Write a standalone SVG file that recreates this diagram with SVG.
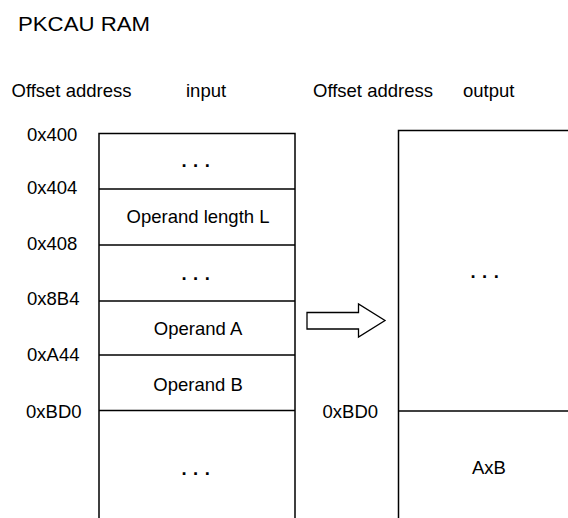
<svg xmlns="http://www.w3.org/2000/svg" width="568" height="518" viewBox="0 0 568 518">
<style>
text{font-family:"Liberation Sans",Arial,sans-serif;font-size:18.5px;fill:#000}
.c{text-anchor:middle}
.ln{stroke:#000;stroke-width:1.5;fill:none}
.dots{font-weight:bold;letter-spacing:0.7px}
</style>
<rect width="568" height="518" fill="#fff"/>
<text x="18" y="30.5" textLength="132" lengthAdjust="spacingAndGlyphs" style="font-size:20.5px">PKCAU RAM</text>
<g id="headers">
<text x="11.5" y="96.5">Offset address</text>
<text x="186" y="96.5">input</text>
<text x="313" y="96.5">Offset address</text>
<text x="463" y="96.5">output</text>
</g>
<g id="input-memory">
<path class="ln" d="M99,518 V133.5 H295 V518"/>
<line class="ln" x1="99" y1="189" x2="295" y2="189"/>
<line class="ln" x1="99" y1="245" x2="295" y2="245"/>
<line class="ln" x1="99" y1="301" x2="295" y2="301"/>
<line class="ln" x1="99" y1="355" x2="295" y2="355"/>
<line class="ln" x1="99" y1="410.5" x2="295" y2="410.5" stroke-width="2"/>
</g>
<g id="input-labels">
<text x="27" y="141">0x400</text>
<text x="27" y="193.5">0x404</text>
<text x="27" y="250">0x408</text>
<text x="27" y="305">0x8B4</text>
<text x="27" y="360.5">0xA44</text>
<text x="26" y="418">0xBD0</text>
</g>
<g id="cell-reserved1"><text class="c dots" x="196" y="167">. . .</text></g>
<g id="cell-length"><text class="c" x="198" y="223">Operand length L</text></g>
<g id="cell-reserved2"><text class="c dots" x="196" y="280">. . .</text></g>
<g id="cell-a"><text class="c" x="198" y="335">Operand A</text></g>
<g id="cell-b"><text class="c" x="198" y="390.5">Operand B</text></g>
<g id="cell-reserved3"><text class="c dots" x="196" y="475">. . .</text></g>
<g id="connectors">
<polygon points="307,312.5 358.5,312.5 358.5,304 385,320.5 358.5,337 358.5,329 307,329" fill="#fff" stroke="#000" stroke-width="1.3"/>
</g>
<g id="output-memory">
<path class="ln" d="M398.5,518 V130.5 H568"/>
<line class="ln" x1="398.5" y1="411" x2="568" y2="411" stroke-width="2"/>
<text x="322.5" y="417.5">0xBD0</text>
</g>
<g id="out-reserved"><text class="c dots" x="485" y="277.5">. . .</text></g>
<g id="out-result"><text class="c" x="489" y="474">AxB</text></g>
</svg>
